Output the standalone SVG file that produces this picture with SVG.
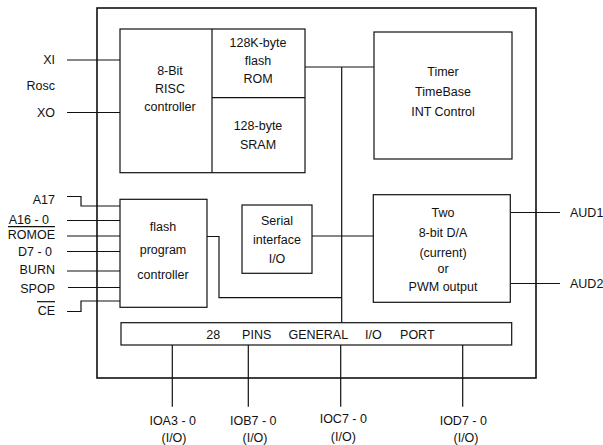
<svg xmlns="http://www.w3.org/2000/svg" width="603" height="445" viewBox="0 0 603 445">
<style>
text{font-family:"Liberation Sans",Arial,sans-serif;font-size:12.5px;fill:#111;dominant-baseline:central}
.c{text-anchor:middle}
.r{text-anchor:end}
.b{fill:#fff;stroke:#111;stroke-width:1.2}
.l{fill:none;stroke:#111;stroke-width:1.2}
</style>
<rect width="603" height="445" fill="#fff"/>
<g id="chip"><rect x="97" y="8" width="439" height="370" fill="none" stroke="#111" stroke-width="1.6"/></g>
<g id="connectors" class="l">
<path class="l" d="M67 60H120M67 112.5H120"/>
<path class="l" d="M67 196.5H81V206H120M67 220.5H120M67 236H120M67 251.5H120M67 271H120M68 287.5H120M67 311.5H81V301H120"/>
<path class="l" d="M305 67H374M341.7 67V322.7"/>
<path class="l" d="M312 236H373M207 236.5H219V297.7H341.7"/>
<path class="l" d="M511 212.5H560M511 283.5H560"/>
<path class="l" d="M172.3 345V406.7M248.3 345V406.7M340.7 345V406.7M462.7 345V406.7"/>
</g>
<g id="risc"><rect class="b" x="120" y="29" width="185" height="143.7"/><path class="l" d="M212 29V172.7M212 97.7H305"/>
<text class="c" x="170" y="71">8-Bit</text><text class="c" x="170" y="89">RISC</text><text class="c" x="170" y="107">controller</text></g>
<g id="rom"><text class="c" x="258" y="43">128K-byte</text><text class="c" x="258" y="61">flash</text><text class="c" x="258" y="79">ROM</text></g>
<g id="sram"><text class="c" x="258" y="126">128-byte</text><text class="c" x="258" y="145">SRAM</text></g>
<g id="timer"><rect class="b" x="374" y="32" width="138" height="127"/>
<text class="c" x="443" y="72">Timer</text><text class="c" x="443" y="92">TimeBase</text><text class="c" x="443" y="112">INT Control</text></g>
<g id="da"><rect class="b" x="373.3" y="194.7" width="137" height="107.6"/>
<text class="c" x="443" y="213">Two</text><text class="c" x="443" y="233">8-bit D/A</text><text class="c" x="443" y="252.5">(current)</text><text class="c" x="443" y="268.5">or</text><text class="c" x="443" y="286.5">PWM output</text></g>
<g id="serial"><rect class="b" x="242" y="205" width="70" height="68.3"/>
<text class="c" x="277" y="221">Serial</text><text class="c" x="277" y="239.5">interface</text><text class="c" x="277" y="259">I/O</text></g>
<g id="flash"><rect class="b" x="120" y="199.3" width="87" height="108"/>
<text class="c" x="163" y="227">flash</text><text class="c" x="163" y="250">program</text><text class="c" x="163" y="275">controller</text></g>
<g id="port"><rect class="b" x="121" y="322.7" width="390.7" height="22.3"/>
<text class="c" x="213.3" y="335">28</text><text class="c" x="256.7" y="335">PINS</text><text class="c" x="318.3" y="335">GENERAL</text><text class="c" x="373.3" y="335">I/O</text><text class="c" x="417.3" y="335">PORT</text></g>
<g id="pins-left">
<text class="r" x="55" y="60">XI</text><text class="r" x="55" y="86">Rosc</text><text class="r" x="55" y="112.5">XO</text>
<text class="r" x="55" y="200">A17</text><text class="r" x="49" y="219.5">A16 - 0</text>
<text class="r" x="55" y="235">ROMOE</text><path class="l" d="M8 226.7H55"/>
<text class="r" x="52" y="251.5">D7 - 0</text><text class="r" x="55" y="269.5">BURN</text><text class="r" x="55" y="288.5">SPOP</text>
<text class="r" x="55" y="310.5">CE</text><path class="l" d="M37 301.7H55"/>
</g>
<g id="pins-right"><text x="570" y="212.5">AUD1</text><text x="570" y="283.5">AUD2</text></g>
<g id="pins-bottom">
<text class="c" x="172.7" y="420.7">IOA3 - 0</text><text class="c" x="174" y="438.3">(I/O)</text>
<text class="c" x="253.3" y="420.7">IOB7 - 0</text><text class="c" x="255" y="438.3">(I/O)</text>
<text class="c" x="343.3" y="419">IOC7 - 0</text><text class="c" x="343.3" y="436.7">(I/O)</text>
<text class="c" x="463.3" y="420.7">IOD7 - 0</text><text class="c" x="466" y="438.3">(I/O)</text>
</g>
</svg>
